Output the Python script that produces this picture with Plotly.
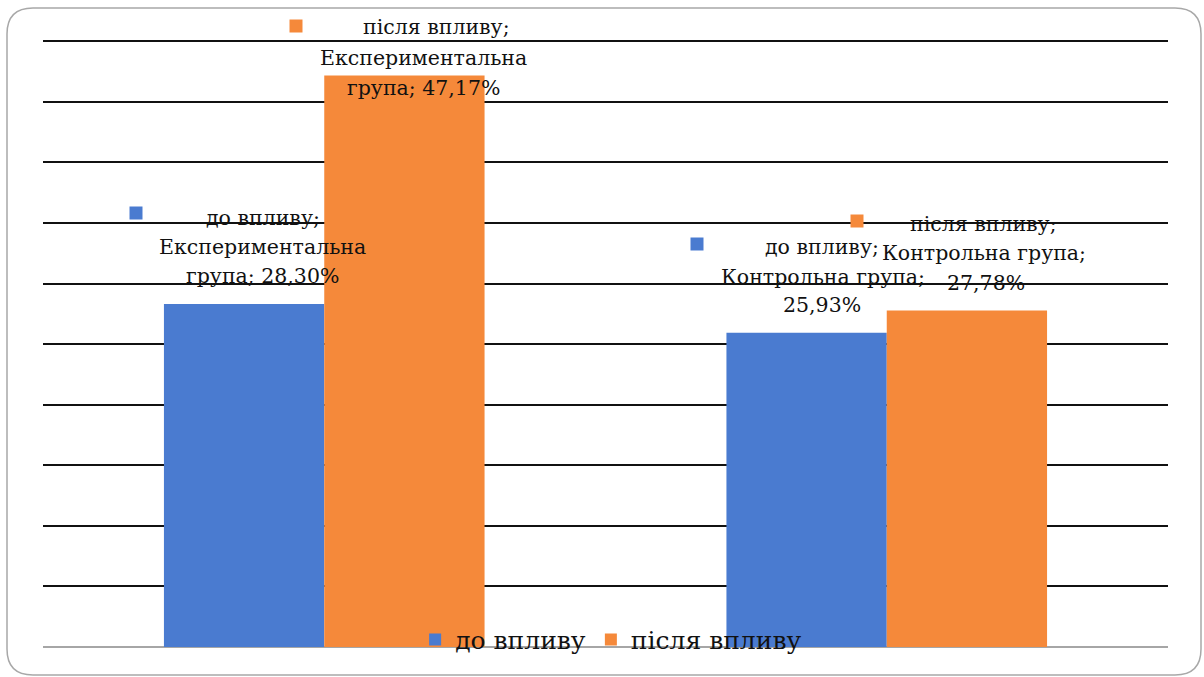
import plotly.graph_objects as go

categories = ["Експериментальна група", "Контрольна група"]
series_names = ["до впливу", "після впливу"]
before_vals = [28.30, 25.93]
after_vals = [47.17, 27.78]
colors = ["#4A7BD0", "#F5893A"]

SERIF = "DejaVu Serif"

W, H = 1204, 677
L, R, T, B = 43, 36, 40, 30
PW, PH = W - L - R, H - T - B
YMAX = 50.1

def px(x):
    return (x - L) / PW

def py(y):
    return (H - B - y) / PH

fig = go.Figure()
for name, vals, col in zip(series_names, [before_vals, after_vals], colors):
    fig.add_trace(go.Bar(x=categories, y=vals, name=name, marker_color=col,
                         marker_line_width=0))

def fmt(v):
    return f"{v:.2f}".replace(".", ",") + "%"

# (series, category, [(x, y) centre of each text line], square centre)
label_pos = [
    (0, 0, [(263, 218), (262, 247), (262, 276)], (136, 213)),
    (1, 0, [(436, 27), (423, 58), (423, 88)], (296, 26)),
    (0, 1, [(822, 247), (823, 277), (822, 305)], (697, 244)),
    (1, 1, [(983, 224), (984, 253), (986, 283)], (857, 221)),
]

def label_text(si, ci):
    s, v = series_names[si], fmt([before_vals, after_vals][si][ci])
    if ci == 0:
        return [f"{s};", "Експериментальна", f"група; {v}"]
    return [f"{s};", "Контрольна група;", v]

shapes = []
annotations = []
for si, ci, lines, (sx, sy) in label_pos:
    for (tx, ty), t in zip(lines, label_text(si, ci)):
        annotations.append(dict(x=px(tx), y=py(ty), xref="paper", yref="paper",
                                text=t, showarrow=False, align="center",
                                xanchor="center", yanchor="middle",
                                font=dict(family=SERIF, size=20.5, color="#111")))
    shapes.append(dict(type="rect", xref="paper", yref="paper",
                       x0=px(sx - 6.5), x1=px(sx + 6.5), y0=py(sy + 6.5), y1=py(sy - 6.5),
                       fillcolor=colors[si], line_width=0))

bx0, bx1, by0, by1, r = 7, 1201, 8, 675, 26
def P(x, y):
    return f"{px(x)},{py(y)}"
path = (f"M {P(bx0 + r, by0)} L {P(bx1 - r, by0)} Q {P(bx1, by0)} {P(bx1, by0 + r)} "
        f"L {P(bx1, by1 - r)} Q {P(bx1, by1)} {P(bx1 - r, by1)} "
        f"L {P(bx0 + r, by1)} Q {P(bx0, by1)} {P(bx0, by1 - r)} "
        f"L {P(bx0, by0 + r)} Q {P(bx0, by0)} {P(bx0 + r, by0)} Z")
shapes.append(dict(type="path", path=path, xref="paper", yref="paper",
                   line=dict(color="#A8A8A8", width=1.5), layer="below"))

fig.update_layout(
    width=W, height=H,
    margin=dict(l=L, r=R, t=T, b=B),
    paper_bgcolor="white", plot_bgcolor="white",
    font=dict(family=SERIF),
    barmode="group", bargap=0.43, bargroupgap=0,
    showlegend=True,
    legend=dict(orientation="h", x=0.505, y=0.012, xanchor="center", yanchor="middle",
                bgcolor="rgba(0,0,0,0)", font=dict(family=SERIF, size=25, color="#111"),
                itemwidth=30, traceorder="normal"),
    xaxis=dict(showticklabels=False, showgrid=False, showline=False, zeroline=False, ticks=""),
    yaxis=dict(range=[0, YMAX], dtick=5, showticklabels=False, showgrid=True,
               gridcolor="#111", gridwidth=2, zeroline=True, zerolinecolor="#A6A6A6",
               zerolinewidth=2, showline=False, ticks=""),
    shapes=shapes,
    annotations=annotations,
)

fig.write_html("out.html", config={"displayModeBar": False},
               post_script="document.body.style.margin='0';document.body.style.overflow='hidden';")
